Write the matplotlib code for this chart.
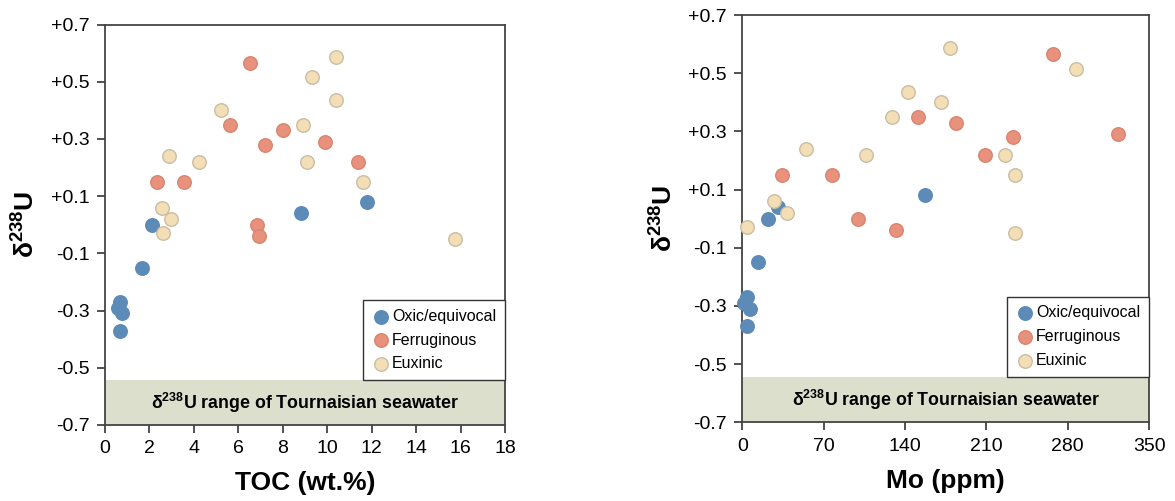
import numpy as np
import matplotlib.pyplot as plt

plt.rcParams['font.family'] = ['Liberation Sans', 'DejaVu Sans']
plt.rcParams['mathtext.fontset'] = 'custom'
plt.rcParams['mathtext.rm'] = 'Liberation Sans'
plt.rcParams['mathtext.bf'] = 'Liberation Sans:bold'

# d238U values per redox class
u_oxic = [0.0, 0.04, 0.08, -0.15, -0.27, -0.29, -0.31, -0.37]
u_ferr = [0.565, 0.35, 0.33, 0.28, 0.29, 0.22, 0.15, 0.15, 0.0, -0.04]
u_eux = [0.585, 0.515, 0.435, 0.40, 0.35, 0.24, 0.22, 0.22, 0.15, 0.06, 0.02, -0.03, -0.05]

# TOC (wt.%)
toc_oxic = [2.13, 8.81, 11.78, 1.65, 0.68, 0.60, 0.78, 0.68]
toc_ferr = [6.53, 5.63, 8.0, 7.21, 9.9, 11.39, 2.34, 3.54, 6.83, 6.92]
toc_eux = [10.4, 9.3, 10.41, 5.2, 8.9, 2.86, 4.24, 9.1, 11.6, 2.55, 2.95, 2.63, 15.77]

# Mo (ppm)
mo_oxic = [22.4, 31, 157, 13.2, 4.3, 1.5, 6.6, 4.3]
mo_ferr = [267.7, 151.2, 183.9, 232.7, 323, 208.9, 34.4, 76.9, 99.6, 132.3]
mo_eux = [179, 287, 143, 171, 128.8, 54.8, 106.7, 226, 234.4, 27.3, 38.2, 4.3, 235]

sw_band = (-0.7, -0.543)
yticks = [0.7, 0.5, 0.3, 0.1, -0.1, -0.3, -0.5, -0.7]
ylabels = ['+0.7', '+0.5', '+0.3', '+0.1', '-0.1', '-0.3', '-0.5', '-0.7']

styles = [
    ('Oxic/equivocal', '#5b8bb6', '#5b8bb6'),
    ('Ferruginous', '#e8917c', '#d98570'),
    ('Euxinic', '#f3deb6', '#c9bea6'),
]

fig = plt.figure(figsize=(11.75, 5.01), dpi=100)
ax1 = fig.add_axes([0.0894, 0.1517, 0.3404, 0.7993])
ax2 = fig.add_axes([0.6317, 0.157, 0.3462, 0.813])


def panel(ax, xs, xlim, xticks, xlabel):
    ax.axhspan(sw_band[0], sw_band[1], color='#dcdfcc', zorder=0, lw=0)
    for (name, fc, ec), x, y in zip(styles, xs, [u_oxic, u_ferr, u_eux]):
        ax.scatter(x, y, s=95, c=fc, edgecolors=ec, linewidths=1.0,
                   label=name, zorder=3, clip_on=False)
    ax.text(np.mean(xlim), np.mean(sw_band),
            r'$\mathbf{\delta^{238}U}$ range of Tournaisian seawater',
            ha='center', va='center', fontsize=12.8, fontweight='bold')
    ax.set_xlim(xlim)
    ax.set_ylim(-0.7, 0.7)
    ax.set_xticks(xticks)
    ax.set_yticks(yticks)
    ax.set_yticklabels(ylabels)
    ax.tick_params(direction='out', length=6, width=1.2, labelsize=14,
                   pad=5, color='#333333')
    for s in ax.spines.values():
        s.set_color('#444444')
        s.set_linewidth(1.3)
    ax.set_xlabel(xlabel, fontsize=19, fontweight='bold', labelpad=10)
    ax.set_ylabel(r'$\mathbf{\delta^{238}U}$', fontsize=19, labelpad=8)
    leg = ax.legend(loc='lower right', bbox_to_anchor=(1.0, 0.112),
                    borderaxespad=0, fontsize=11.5, fancybox=False,
                    handletextpad=0.15, handlelength=1.1, borderpad=0.55,
                    labelspacing=0.55, framealpha=1)
    leg.get_frame().set_edgecolor('#333333')
    leg.get_frame().set_linewidth(1.0)


panel(ax1, [toc_oxic, toc_ferr, toc_eux], (0, 18), range(0, 19, 2), 'TOC (wt.%)')
panel(ax2, [mo_oxic, mo_ferr, mo_eux], (0, 350), range(0, 351, 70), 'Mo (ppm)')

fig.savefig('out.png', dpi=100)
